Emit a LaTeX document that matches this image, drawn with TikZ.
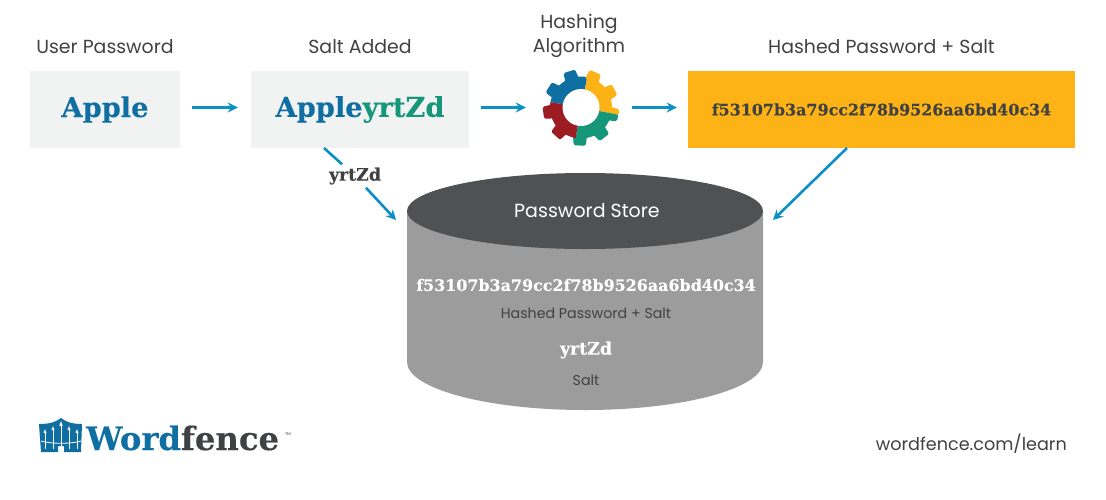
\documentclass[tikz,border=0pt]{standalone}
\usepackage{fontspec}
\setmainfont{Poppins}
\newfontfamily\slabfont{DejaVu Serif}[BoldFont={DejaVu Serif Bold},BoldFeatures={FakeBold=0.25}]
\usepackage{xcolor}
\usetikzlibrary{arrows.meta,calc,shapes.geometric,positioning}
\definecolor{wfblue}{HTML}{0F6FA3}
\definecolor{wfgreen}{HTML}{17977A}
\definecolor{wfred}{HTML}{9C1C22}
\definecolor{wfyellow}{HTML}{FDB316}
\definecolor{wfarrow}{HTML}{0B8FC6}
\definecolor{wfpale}{HTML}{F1F3F3}
\definecolor{wfink}{HTML}{404143}
\definecolor{wfdrum}{HTML}{9C9C9C}
\definecolor{wflid}{HTML}{505153}
\newcommand{\gearpart}[4]{%
  \fill[#1] (0,0) -- (#2:31) arc[start angle=#2, end angle=#3, radius=31pt] -- cycle;
  \foreach \t in {#4} {
    \fill[#1, rounded corners=1.5pt] (\t-14:29) -- (\t-9:38.5) -- (\t+9:38.5) -- (\t+14:29) -- cycle;
  }
}
\begin{document}
\begin{tikzpicture}[
  x=1pt, y=-1pt,
  flow/.style={-{Stealth[length=10pt,width=10pt]}, line width=2.6pt, wfarrow},
  heading/.style={font=\fontsize{18.9}{24}\selectfont, text=wfink, align=center},
  wordbox/.style={fill=wfpale, minimum height=77pt, inner sep=0pt},
  caption/.style={font=\fontsize{14.2}{16}\selectfont, text=wfink},
  slab/.style={font=\slabfont\bfseries\fontsize{15.9}{18}\selectfont, inner sep=0pt},
]
  \useasboundingbox (0,0) rectangle (1106,499);
  % Boxes
  \node[wordbox, minimum width=150pt] (apple) at (105,109.5)
    {\slabfont\bfseries\fontsize{27.3}{30}\selectfont\color{wfblue}Apple};
  \node[wordbox, minimum width=218pt] (salted) at (360,109.5)
    {\slabfont\bfseries\fontsize{27.3}{30}\selectfont\color{wfblue}Apple\color{wfgreen}yrtZd};
  \node[fill=wfyellow, minimum width=387pt, minimum height=77pt, inner sep=0pt,
    slab, text=wfink] (hashed) at (881.5,109.5) {f53107b3a79cc2f78b9526aa6bd40c34};
  % Headings
  \node[heading] (userhead) at (105,46.5) {User Password};
  \node[heading] (salthead) at (360,46.5) {Salt Added};
  \node[heading] (algohead) at (579,35.5) {Hashing\\Algorithm};
  \node[heading] (hashhead) at (881.5,46.5) {Hashed Password + Salt};
  % Gear
  \coordinate (gear) at (581,107.5);
  \begin{scope}[shift={(gear)}, y=1pt]
    \gearpart{wfblue}{170}{78}{148,108}
    \gearpart{wfyellow}{78}{-11}{68,28}
    \gearpart{wfgreen}{-11}{-100}{-52,-92}
    \gearpart{wfred}{-100}{-190}{-132,-172}
    \begin{scope}
      \clip (0,0) -- (-11:45) -- (45:45) -- cycle;
      \fill[wfyellow, rounded corners=1.5pt] (-26:29) -- (-21:38.5) -- (-3:38.5) -- (2:29) -- cycle;
    \end{scope}
    \begin{scope}
      \clip (0,0) -- (-11:45) -- (-60:45) -- cycle;
      \fill[wfgreen, rounded corners=1.5pt] (-26:29) -- (-21:38.5) -- (-3:38.5) -- (2:29) -- cycle;
    \end{scope}
    \fill[white] (0,0) circle (18.5pt);
  \end{scope}
  \node[inner sep=0pt, minimum size=80pt] (gearbox) at (gear) {};
  % Password store
  \fill[wfdrum] (407,211) -- (407,362) arc[start angle=180, end angle=360,
    x radius=178pt, y radius=48pt] -- (763,211) -- cycle;
  \node[ellipse, fill=wflid, minimum width=356pt, minimum height=76pt, inner sep=0pt] (store) at (585,211) {};
  \node[text=white, font=\fontsize{19}{22}\selectfont] (storetitle) at (587,211) {Password Store};
  \node[slab, text=white] (storehash) at (586,285) {f53107b3a79cc2f78b9526aa6bd40c34};
  \node[caption] (storehashcap) at (586,313) {Hashed Password + Salt};
  \node[slab, text=white, font=\slabfont\bfseries\fontsize{17.3}{20}\selectfont] (storesalt) at (586,350) {yrtZd};
  \node[caption] (storesaltcap) at (586,380) {Salt};
  % Arrows
  \draw[flow, shorten <=12pt, shorten >=13pt] (apple.east |- gear) -- (salted.west |- gear);
  \draw[flow, shorten <=12pt, shorten >=15pt] (salted.east |- gear) -- (gearbox.west);
  \draw[flow, shorten <=11pt, shorten >=11pt] (gearbox.east) -- (hashed.west |- gear);
  \coordinate (saltfoot) at (324,148);
  \coordinate (storeleft) at (396,220);
  \coordinate (hashfoot) at (847,148);
  \coordinate (storeright) at (773,220);
  \node[slab, text=wfink, fill=white, inner sep=3pt, font=\slabfont\bfseries\fontsize{17.3}{20}\selectfont] (salttag) at (355,176) {yrtZd};
  \draw[line width=2.6pt, wfarrow] (saltfoot) -- (salttag);
  \draw[flow] (salttag) -- (storeleft);
  \draw[flow] (hashfoot) -- (storeright);
  % Logo
  \fill[wfblue] (39,424) .. controls (50,424) and (56,422) .. (61,418)
    .. controls (66,422) and (72,424) .. (82,424) -- (81,452) -- (64,452) -- (64,446)
    -- (58,446) -- (58,452) -- (41,452) -- cycle;
  \foreach \p/\q in {45/433,53/430,69/430,77/433} {
    \draw[white, line width=1pt] (\p,\q) -- (\p,449);
    \fill[white] (\p-1.5,\q) -- (\p,\q-4) -- (\p+1.5,\q) -- cycle;
  }
  \draw[white, line width=1pt] (61,426) -- (61,446);
  \fill[white] (59.3,426) -- (61,421) -- (62.7,426) -- cycle;
  \draw[white, line width=.8pt] (41,441) .. controls (50,444) and (72,444) .. (81,441);
  \node[anchor=west, inner sep=0pt, font=\slabfont\bfseries\fontsize{32.3}{36}\selectfont]
    (logo) at (86,438) {\color{wfblue}Word\color{wfink}fence};
  \node[anchor=south west, inner sep=0pt, font=\fontsize{4}{4}\selectfont, text=wfink]
    (logotm) at (285,436) {TM};
  \node[anchor=east, inner sep=0pt, text=wfink, font=\fontsize{17.6}{21}\selectfont]
    (learn) at (1067,444) {wordfence.com/learn};
\end{tikzpicture}
\end{document}
